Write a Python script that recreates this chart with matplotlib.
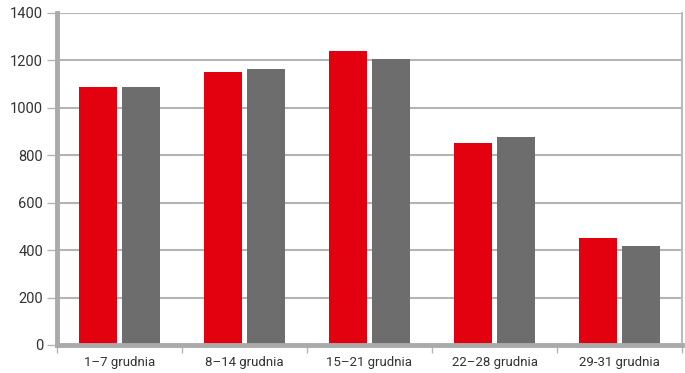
import numpy as np
import matplotlib.pyplot as plt

categories = ["1–7 grudnia", "8–14 grudnia", "15–21 grudnia", "22–28 grudnia", "29-31 grudnia"]
red_vals = [1088, 1151, 1240, 851, 452]
gray_vals = [1090, 1164, 1206, 878, 418]

plt.rcParams['font.family'] = ['Roboto', 'DejaVu Sans']

fig = plt.figure(figsize=(6.85, 3.73), dpi=100)
ax = fig.add_axes([57/685, 28/373, 625/685, 332/373])

x = np.arange(len(categories))
w = 0.31
off = 0.172
ax.bar(x - off, red_vals, w, color='#e3000f', zorder=3)
ax.bar(x + off, gray_vals, w, color='#6d6d6d', zorder=3)

ax.set_xlim(-0.5, len(categories) - 0.5)
ax.set_ylim(0, 1400)
ax.set_yticks(range(0, 1401, 200))
ax.yaxis.grid(True, color='#b4b4b4', linewidth=1.5, zorder=0)
ax.set_axisbelow(True)

# category boundaries as minor ticks, labels centred
ax.set_xticks(x)
ax.set_xticklabels(categories, fontsize=9.5, color='#333333')
ax.set_xticks(np.arange(-0.5, len(categories)), minor=True)
ax.tick_params(axis='x', which='major', length=0, pad=8)
ax.tick_params(axis='x', which='minor', length=6, width=1, color='#b4b4b4')
ax.tick_params(axis='y', length=7, width=1, color='#b4b4b4', labelsize=10.5,
               labelcolor='#333333', pad=3)

ax.spines['top'].set_visible(False)
ax.spines['left'].set_color('#aaaaaa')
ax.spines['left'].set_linewidth(3.5)
ax.spines['bottom'].set_color('#aaaaaa')
ax.spines['bottom'].set_linewidth(3.5)
ax.spines['bottom'].set_zorder(4)
ax.spines['right'].set_color('#bbbbbb')
ax.spines['right'].set_linewidth(1.5)

fig.savefig('out.png', dpi=100)
